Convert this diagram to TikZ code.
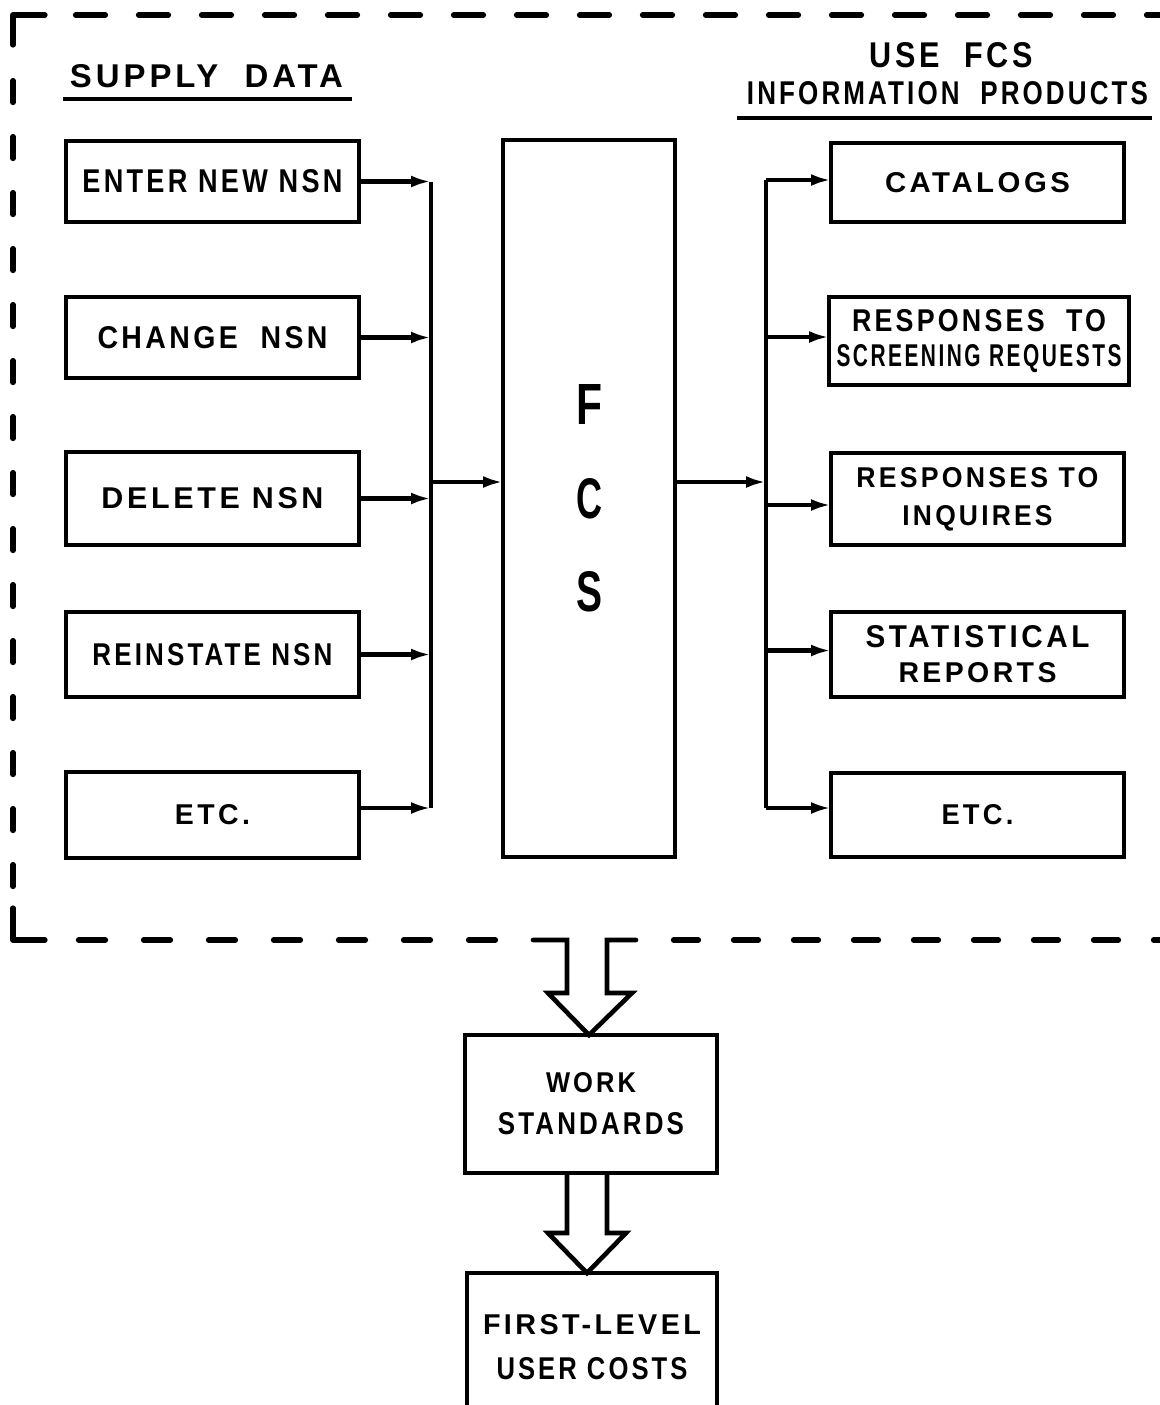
\documentclass[tikz,border=0pt]{standalone}
\usepackage{fontspec}
\setmainfont{Liberation Sans}[LetterSpace=12]
\usetikzlibrary{arrows.meta,calc}
\newcommand\fw[3]{\resizebox{#1pt}{#2pt}{#3}}
\begin{document}
\begin{tikzpicture}[x=0.5pt,y=-0.5pt,
  box/.style={draw, line width=2.3pt, inner sep=0pt, outer sep=0pt, align=center},
  lbl/.style={inner sep=0pt, outer sep=0pt},
  conn/.style={line width=2.4pt},
  arr/.style={line width=2.4pt, -{Latex[length=10pt,width=6pt]}},
  dframe/.style={line width=2.6pt, line cap=round, line join=round},
  hollow/.style={line width=2.3pt, line join=miter},
  ls/.style={font=\bfseries\fontsize{10}{#1}\selectfont}]
\useasboundingbox (0,0) rectangle (1160,1405);
\begin{scope}
\clip (0,0) rectangle (1160,1405);

% headers
\node[lbl, ls=12] (sup) at (206.5,76.5) {\fw{136.5}{11.5}{SUPPLY\ \ DATA}};
\draw[line width=2.3pt] ([shift={(-7,11)}]sup.south west) -- ([shift={(9,11)}]sup.south east);
\node[lbl, ls=12] (use) at (951.5,55.5) {\fw{81.5}{12.5}{USE\ \ FCS}};
\node[lbl, ls=12] (info) at (947.5,93.5) {\fw{200.5}{11.5}{INFORMATION\ \ PRODUCTS}};
\draw[line width=2.3pt] ([shift={(-10,13)}]info.south west) -- ([shift={(4,13)}]info.south east);

% left boxes
\node[box, ls=12, minimum width=146.5pt, minimum height=40.5pt] (enter) at (212.5,181.5) {\fw{130}{11.5}{ENTER NEW NSN}};
\node[box, ls=12, minimum width=146.5pt, minimum height=40.5pt] (change) at (212.5,337.5) {\fw{115}{11}{CHANGE\ \ NSN}};
\node[box, ls=12, minimum width=146.5pt, minimum height=46.5pt] (delete) at (212.5,498.5) {\fw{111}{10.5}{DELETE NSN}};
\node[box, ls=12, minimum width=146.5pt, minimum height=42.5pt] (reinst) at (212.5,654.5) {\fw{120}{11}{REINSTATE NSN}};
\node[box, ls=12, minimum width=146.5pt, minimum height=43pt] (etcl) at (212.5,815) {\fw{37.5}{10}{ETC.}};

% central box
\node[box, ls=46.75, minimum width=86pt, minimum height=358.5pt] (fcs) at (589,498.5) {\fw{13}{20}{F}\\\fw{13}{20}{C}\\\fw{13}{20}{S}};

% right boxes
\node[box, ls=12, minimum width=146.5pt, minimum height=39.5pt] (cat) at (977.5,182.5) {\fw{92.5}{10}{CATALOGS}};
\node[box, ls=17.5, minimum width=150pt, minimum height=44pt] (scr) at (979,341) {\fw{127}{11}{RESPONSES\ \ TO}\\\fw{142.5}{11}{SCREENING REQUESTS}};
\node[box, ls=19, minimum width=146.5pt, minimum height=46pt] (inq) at (977.5,499) {\fw{121}{10}{RESPONSES\ TO}\\\fw{75}{10}{INQUIRES}};
\node[box, ls=17.5, minimum width=146.5pt, minimum height=42.5pt] (stat) at (977.5,654.5) {\fw{112}{11}{STATISTICAL}\\\fw{79}{10}{REPORTS}};
\node[box, ls=12, minimum width=146.5pt, minimum height=42pt] (etcr) at (977.5,815) {\fw{36}{10}{ETC.}};

% bottom boxes
\node[box, ls=21, minimum width=126pt, minimum height=69pt] (work) at (591,1104) {\fw{45}{10}{WORK}\\\fw{93}{11}{STANDARDS}};
\node[box, ls=22.5, minimum width=125pt, minimum height=74.5pt] (first) at (592,1347.5) {\fw{109}{10}{FIRST-LEVEL}\\\fw{95.5}{11}{USER COSTS}};

% buses
\coordinate (lb) at (431,0);
\coordinate (rb) at (766,0);
\draw[arr] (enter.east) -- (enter.east -| lb);
\draw[arr] (change.east) -- (change.east -| lb);
\draw[arr] (delete.east) -- (delete.east -| lb);
\draw[arr] (reinst.east) -- (reinst.east -| lb);
\draw[arr] ([yshift=3.5pt]etcl.east) -- ([yshift=3.5pt]etcl.east -| lb);
\draw[conn] (enter.east -| lb) -- ([yshift=3.5pt]etcl.east -| lb);

\coordinate (fin) at ([yshift=8.25pt]fcs.west);
\coordinate (fout) at ([yshift=8.25pt]fcs.east);
\draw[arr] (fin -| lb) -- (fin);
\draw[arr] (fout) -- (fout -| rb);

\draw[conn] ([yshift=1.25pt]cat.west -| rb) -- ([yshift=3.5pt]etcr.west -| rb);
\draw[arr] ([yshift=1.25pt]cat.west -| rb) -- ([yshift=1.25pt]cat.west);
\draw[arr] ([yshift=2pt]scr.west -| rb) -- ([yshift=2pt]scr.west);
\draw[arr] ([yshift=-3pt]inq.west -| rb) -- ([yshift=-3pt]inq.west);
\draw[arr] ([yshift=2pt]stat.west -| rb) -- ([yshift=2pt]stat.west);
\draw[arr] ([yshift=3.5pt]etcr.west -| rb) -- ([yshift=3.5pt]etcr.west);

% dashed frame
\draw[dframe] (13,45) -- (13,15) -- (45,15);
\draw[dframe, dash pattern=on 15pt off 16.5pt] (75.5,15) -- (1175,15);
\draw[dframe, dash pattern=on 11pt off 17pt] (13,80.5) -- (13,900);
\draw[dframe] (13,908) -- (13,940) -- (45,940);
\draw[dframe, dash pattern=on 13.5pt off 19pt] (78.5,940) -- (498,940);
\draw[dframe, dash pattern=on 12.5pt off 17.5pt] (673.5,940) -- (1175,940);

% hollow arrows
\coordinate (t1) at ($(work.north)+(-2,0)$);
\draw[hollow, line cap=round] ($(t1)+(-56,-95)$) -- ($(t1)+(-22,-95)$) -- ($(t1)+(-22,-42)$) -- ($(t1)+(-41,-42)$) -- (t1) -- ($(t1)+(43,-42)$) -- ($(t1)+(18,-42)$) -- ($(t1)+(18,-95)$) -- ($(t1)+(47,-95)$);
\coordinate (t2) at ($(first.north)+(-5,0)$);
\draw[hollow] ($(t2)+(-20,-100)$) -- ($(t2)+(-20,-40)$) -- ($(t2)+(-39,-40)$) -- (t2) -- ($(t2)+(39,-40)$) -- ($(t2)+(20,-40)$) -- ($(t2)+(20,-100)$);
\end{scope}
\end{tikzpicture}
\end{document}
